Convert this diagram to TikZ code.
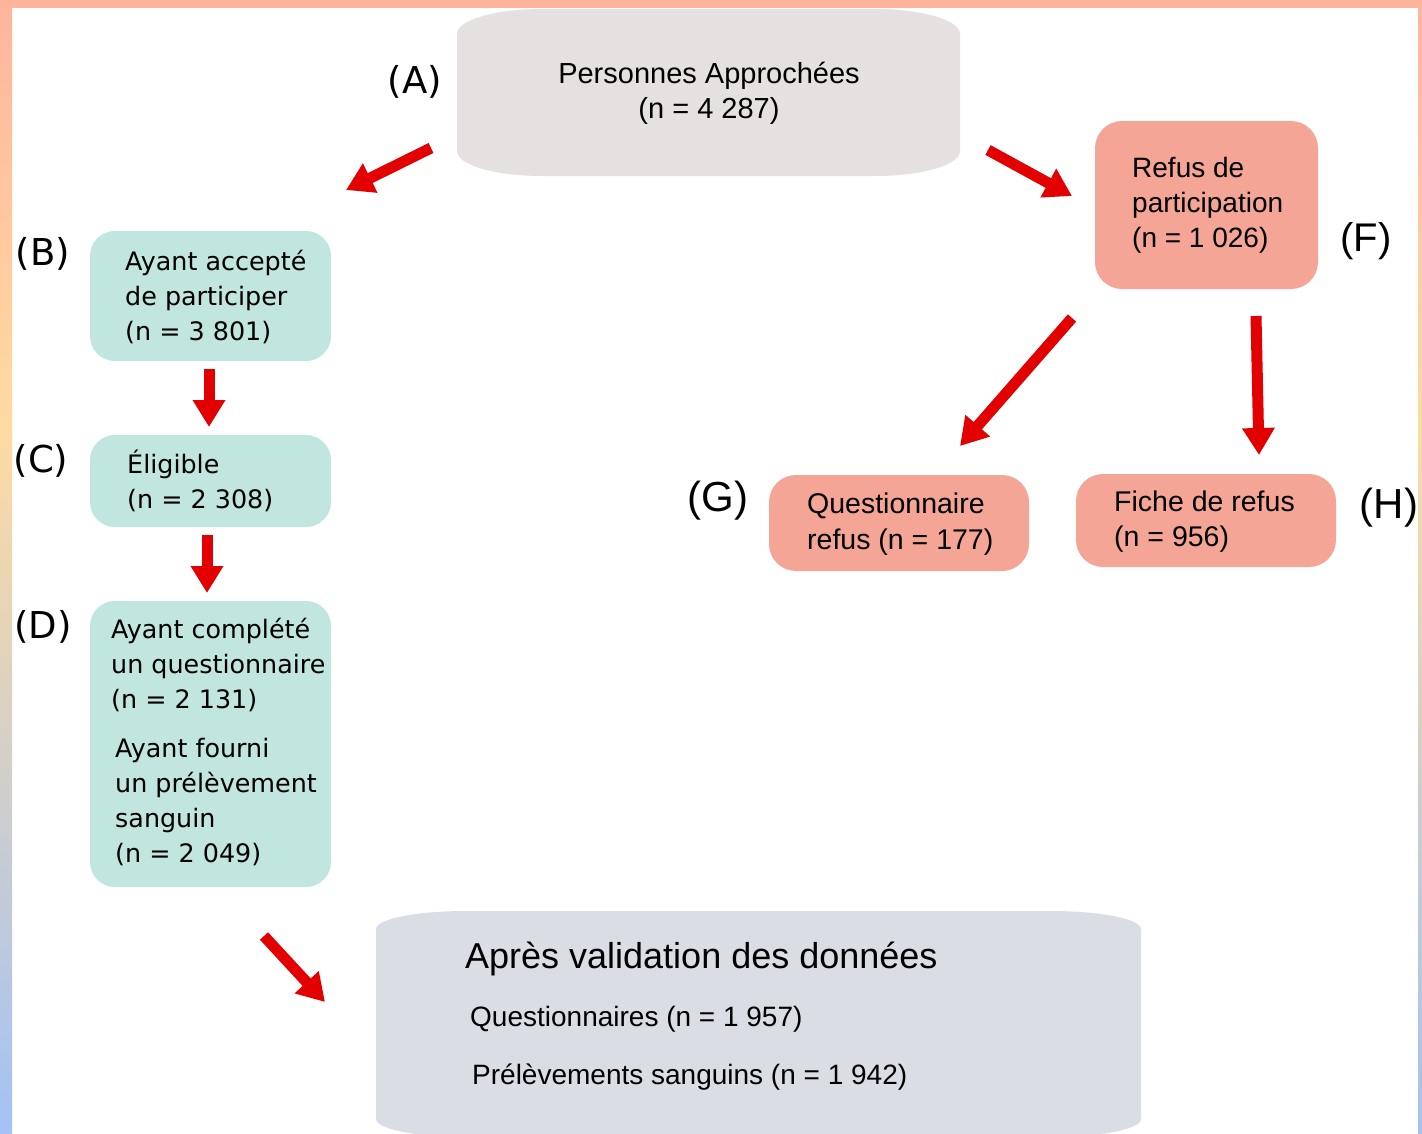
\documentclass[tikz,border=0pt]{standalone}
\usepackage{fontspec}
\setmainfont{Liberation Sans}
\newfontfamily\dvs{DejaVu Sans}
\usetikzlibrary{arrows.meta}
\definecolor{frameO}{HTML}{FFB59C}
\definecolor{frameY}{HTML}{FDDBA2}
\definecolor{frameG}{HTML}{D8D0D8}
\definecolor{frameB}{HTML}{A4C2F4}
\definecolor{greyA}{HTML}{E5E1E0}
\definecolor{greyE}{HTML}{DADEE4}
\definecolor{tealbx}{HTML}{C1E6DF}
\definecolor{salmonbx}{HTML}{F4A596}
\definecolor{arrred}{HTML}{E30000}
\begin{document}
\begin{tikzpicture}[x=1pt,y=-1pt,
  txt/.style={inner sep=0pt, align=left, anchor=west, text=black},
  tealbox/.style={fill=tealbx, rounded corners=25pt, inner sep=0pt, minimum width=241pt},
  salbox/.style={fill=salmonbx, rounded corners=27pt, inner sep=0pt},
  lblA/.style={inner sep=0pt, font=\dvs\fontsize{37}{40}\selectfont},
  lblF/.style={inner sep=0pt, font=\fontsize{40}{44}\selectfont},
  bfont/.style={font=\dvs\fontsize{25.4}{35}\selectfont},
  arr/.style={draw=arrred, line width=11pt, -{Triangle[width=31pt,length=27pt]}}]
\useasboundingbox (0,0) rectangle (1422,1133);
\fill[white] (0,0) rectangle (1422,1133);
% frame
\shade[top color=frameO, bottom color=frameY] (0,0) rectangle (12,430);
\shade[top color=frameY, middle color=frameG, bottom color=frameB] (0,430) rectangle (12,1133);
\shade[top color=frameO, bottom color=frameY] (1418,0) rectangle (1422,430);
\shade[top color=frameY, middle color=frameG, bottom color=frameB] (1418,430) rectangle (1422,1133);
\fill[frameO] (0,0) rectangle (1422,8);

% grey box A
\fill[greyA] (457,34) -- (457,151) .. controls (457,165) and (495,176) .. (542,176) -- (875,176) .. controls (922,176) and (960,165) .. (960,151) -- (960,34) .. controls (960,20) and (922,9) .. (875,9) -- (542,9) .. controls (495,9) and (457,20) .. (457,34) -- cycle;
\node[txt, anchor=center, align=center, font=\fontsize{29}{35}\selectfont] (A) at (709,93) {Personnes Approchées\\(n = 4 287)};

% grey box E
\fill[greyE] (376,929) -- (376,1119) .. controls (376,1129) and (416,1137) .. (466,1137) -- (1051,1137) .. controls (1101,1137) and (1141,1129) .. (1141,1119) -- (1141,929) .. controls (1141,919) and (1101,911) .. (1051,911) -- (466,911) .. controls (416,911) and (376,919) .. (376,929) -- cycle;
\node[txt, font=\fontsize{36}{40}\selectfont] (E) at (465,959) {Après validation des données};
\node[txt, font=\fontsize{28}{34}\selectfont] (E1) at (470,1019) {Questionnaires (n = 1 957)};
\node[txt, font=\fontsize{28}{34}\selectfont] (E2) at (472,1077) {Prélèvements sanguins (n = 1 942)};

% teal boxes
\node[tealbox, minimum height=130pt] (B) at (210.5,296) {};
\node[tealbox, minimum height=92pt] (C) at (210.5,481) {};
\node[tealbox, minimum height=286pt] (D) at (210.5,744) {};
\node[txt, bfont] (tB) at (125,297) {Ayant accepté\\de participer\\(n = 3 801)};
\node[txt, bfont] (tC) at (127,480.5) {Éligible\\(n = 2 308)};
\node[txt, bfont] (tD1) at (111,665) {Ayant complété\\un questionnaire\\(n = 2 131)};
\node[txt, bfont] (tD2) at (115,802.5) {Ayant fourni\\un prélèvement\\sanguin\\(n = 2 049)};

% salmon boxes
\node[salbox, minimum width=223pt, minimum height=168pt] (F) at (1206.5,205) {};
\node[salbox, minimum width=260pt, minimum height=96pt] (G) at (899,523) {};
\node[salbox, minimum width=260pt, minimum height=93pt] (H) at (1206,520.5) {};
\node[txt, font=\fontsize{28}{35}\selectfont] (tF) at (1132,205) {Refus de\\participation\\(n = 1 026)};
\node[txt, font=\fontsize{28.5}{36}\selectfont] (tG) at (807,524) {Questionnaire\\refus (n = 177)};
\node[txt, font=\fontsize{28.5}{35}\selectfont] (tH) at (1114,522) {Fiche de refus\\(n = 956)};

% labels
\node[lblA] (lA) at (415,82) {(A)};
\node[lblA] (lB) at (43,254) {(B)};
\node[lblA] (lC) at (41,461) {(C)};
\node[lblA] (lD) at (43,627) {(D)};
\node[lblF] (lF) at (1366,241) {(F)};
\node[lblF, font=\fontsize{42}{46}\selectfont] (lG) at (718,501) {(G)};
\node[lblF, font=\fontsize{42}{46}\selectfont] (lH) at (1389,508) {(H)};

% arrow end points
\coordinate (aAB1) at (431,148); \coordinate (aAB2) at (346,190);
\coordinate (aAF1) at (988,150); \coordinate (aAF2) at (1072,196);
\coordinate (aBC1) at (209,369); \coordinate (aBC2) at (209,427);
\coordinate (aCD1) at (207,535); \coordinate (aCD2) at (207,593);
\coordinate (aDE1) at (264,936); \coordinate (aDE2) at (325,1002);
\coordinate (aFG1) at (1072,318); \coordinate (aFG2) at (960,446);
\coordinate (aFH1) at (1256,316); \coordinate (aFH2) at (1259,455);
\draw[arr] (aAB1) -- (aAB2);
\draw[arr] (aAF1) -- (aAF2);
\draw[arr] (aBC1) -- (aBC2);
\draw[arr] (aCD1) -- (aCD2);
\draw[arr] (aDE1) -- (aDE2);
\draw[arr] (aFG1) -- (aFG2);
\draw[arr] (aFH1) -- (aFH2);
\end{tikzpicture}
\end{document}
